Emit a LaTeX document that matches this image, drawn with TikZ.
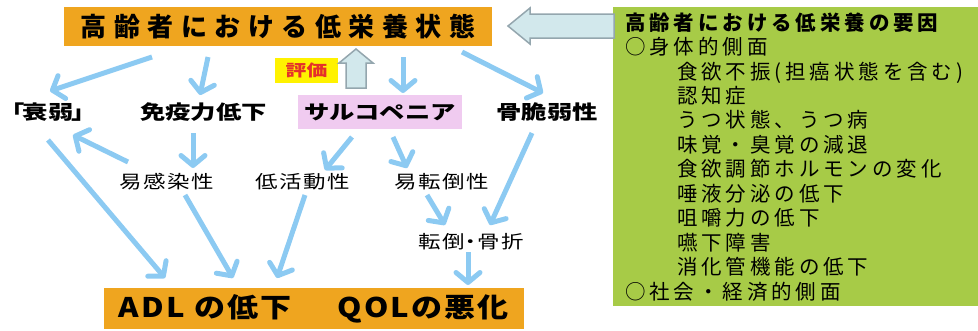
\documentclass[tikz,border=0pt]{standalone}
\usepackage{fontspec}
\setmainfont{Noto Sans CJK JP}
\usetikzlibrary{arrows.meta}
\definecolor{boxorange}{HTML}{EFA51F}
\definecolor{boxgreen}{HTML}{A7CB47}
\definecolor{boxpink}{HTML}{F0CBF0}
\definecolor{evalyellow}{HTML}{FFF200}
\definecolor{evalred}{HTML}{E5302A}
\definecolor{arrowblue}{HTML}{8CCAF2}
\definecolor{hollowfill}{HTML}{D2E8EC}
\definecolor{hollowline}{HTML}{94A6AE}
\newfontfamily\ftitle{Noto Sans CJK JP}[LetterSpace=29]
\newfontfamily\fgreen{Noto Sans CJK JP}[LetterSpace=19]
\newfontfamily\frowA{Noto Sans CJK JP}[FakeStretch=1.3]
\newfontfamily\frowB{Noto Sans CJK JP}[FakeStretch=1.25,LetterSpace=8]
\newfontfamily\fbottom{Noto Sans CJK JP}[FakeStretch=1.15,LetterSpace=8]
\tikzset{
  orangebox/.style={fill=boxorange, draw=none, inner sep=0pt},
  greenbox/.style={fill=boxgreen, draw=none},
  pinkbox/.style={fill=boxpink, draw=none, inner sep=0pt},
  rowA/.style={inner sep=0pt, font=\frowA\bfseries\fontsize{19.5}{22}\selectfont},
  rowB/.style={inner sep=0pt, font=\frowB\fontsize{18}{21}\selectfont},
  arr/.style={draw=arrowblue, line width=5pt, -{Straight Barb[length=10pt,width=24pt,round]}},
  hollow/.style={fill=hollowfill, draw=hollowline, line width=1.5pt, line join=miter}
}
\begin{document}
\begin{tikzpicture}[x=1pt,y=-1pt]
\useasboundingbox (0,0) rectangle (978,330);
% boxes
\node[orangebox, minimum width=428pt, minimum height=39pt] (top) at (278,26.5)
  {\ftitle\bfseries\fontsize{26}{30}\selectfont 高齢者における低栄養状態};
\node[greenbox, anchor=north west, minimum width=365pt, minimum height=299pt,
      text width=365pt, inner xsep=0pt, inner ysep=0pt, align=left,
      font=\fgreen\fontsize{20.5}{24.45}\selectfont] (factors) at (613,7)
  {\hspace*{12pt}{\bfseries 高齢者における低栄養の要因}\\
   \hspace*{12pt}○身体的側面\\
   \hspace*{64pt}食欲不振(担癌状態を含む)\\
   \hspace*{64pt}認知症\\
   \hspace*{64pt}うつ状態、うつ病\\
   \hspace*{64pt}味覚・臭覚の減退\\
   \hspace*{64pt}食欲調節ホルモンの変化\\
   \hspace*{64pt}唾液分泌の低下\\
   \hspace*{64pt}咀嚼力の低下\\
   \hspace*{64pt}嚥下障害\\
   \hspace*{64pt}消化管機能の低下\\
   \hspace*{12pt}○社会・経済的側面};
% big hollow arrow (factors -> top)
\draw[hollow] (508,26) -- (530,8) -- (530,14) -- (614,14) -- (614,38) -- (530,38) -- (530,44) -- cycle;
% row 1
\node[rowA] (weak) at (48,112) {「\kern-2pt 衰弱\kern-2pt 」};
\node[rowA] (imm) at (203.5,112) {免疫力低下};
\node[pinkbox, rowA, minimum width=164pt, minimum height=34pt] (sarc) at (380,112) {サルコペニア};
\node[rowA] (bone) at (547,112) {骨脆弱性};
% evaluation
\node[fill=evalyellow, minimum width=63pt, minimum height=25pt, inner sep=0pt,
      font=\frowA\bfseries\fontsize{16}{18}\selectfont, text=evalred] (eval) at (306.5,70.5) {評価};
\draw[hollow] (356,49) -- (373,63) -- (366,63) -- (366,88) -- (346,88) -- (346,63) -- (339,63) -- cycle;
% row 2
\node[rowB] (inf) at (167,182) {易感染性};
\node[rowB] (low) at (303,182) {低活動性};
\node[rowB] (fall) at (442,182) {易転倒性};
\node[rowB] (frac) at (471,242) {転倒\kern-5pt ・\kern-5pt 骨折};
% bottom
\node[orangebox, minimum width=420pt, minimum height=41pt] (bottom) at (314,308.5)
  {\fbottom\bfseries\fontsize{27}{32}\selectfont ADL の低下\hspace{46pt}QOLの悪化};
% arrows
\draw[arr] ([shift={(-126,30.5)}]top.center) -- ([shift={(2,-21)}]weak.center);
\draw[arr] ([shift={(-70,30.5)}]top.center) -- ([shift={(-3.5,-17)}]imm.center);
\draw[arr] ([shift={(125,30.5)}]top.center) -- ([shift={(23,-19)}]sarc.center);
\draw[arr] ([shift={(184,25.5)}]top.center) -- ([shift={(-4,-19)}]bone.center);
\draw[arr] ([shift={(-39,-20)}]inf.center) -- ([shift={(25,23)}]weak.center);
\draw[arr] ([shift={(-10.5,21)}]imm.center) -- ([shift={(26,-14)}]inf.center);
\draw[arr] ([shift={(-28,25)}]sarc.center) -- ([shift={(22,-12)}]low.center);
\draw[arr] ([shift={(13,25)}]sarc.center) -- ([shift={(-35,-14)}]fall.center);
\draw[arr] ([shift={(-15,13)}]fall.center) -- ([shift={(-26,-17)}]frac.center);
\draw[arr] ([shift={(-15,21)}]bone.center) -- ([shift={(19,-17)}]frac.center);
\draw[arr] ([shift={(0,28)}]weak.center) -- ([shift={(-149,-30.5)}]bottom.center);
\draw[arr] ([shift={(18,13)}]inf.center) -- ([shift={(-81,-30.5)}]bottom.center);
\draw[arr] ([shift={(2,13)}]low.center) -- ([shift={(-37,-30.5)}]bottom.center);
\draw[arr] ([shift={(-3,10)}]frac.center) -- ([shift={(154,-23.5)}]bottom.center);
\end{tikzpicture}
\end{document}
